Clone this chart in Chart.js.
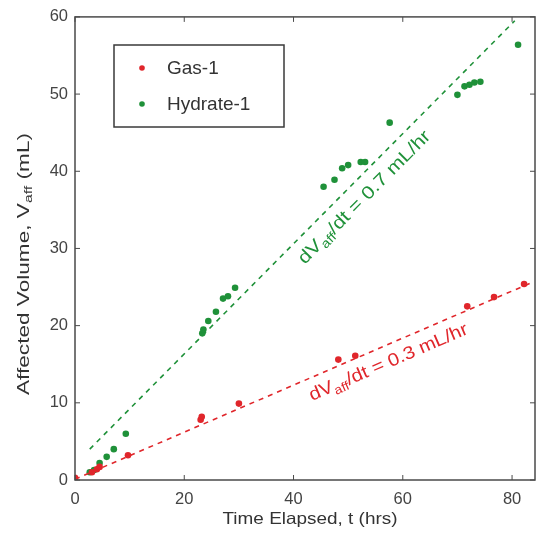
<!DOCTYPE html>
<html><head><meta charset="utf-8">
<script src="https://cdn.jsdelivr.net/npm/chart.js@4"></script>
<style>html,body{margin:0;padding:0;background:#fff}#wrap{width:539px;height:535px}</style>
</head><body><div id="wrap"><canvas id="c" width="539" height="535"></canvas></div>
<script>
const gasX = [0, 3.1, 4.0, 4.5, 9.7, 23, 23.2, 30, 48.2, 51.3, 71.8, 76.7, 82.2];
const gasY = [0.3, 1.0, 1.4, 1.7, 3.2, 7.8, 8.2, 9.9, 15.6, 16.1, 22.5, 23.7, 25.4];
const hydX = [2.7, 3.5, 4.5, 5.8, 7.1, 9.3, 23.3, 23.5, 24.4, 25.8, 27.1, 28, 29.3, 45.5, 47.5, 48.9, 50, 52.3, 53.1, 57.6, 70, 71.3, 72.2, 73.1, 74.2, 81.1];
const hydY = [1.0, 1.3, 2.2, 3.0, 4.0, 6.0, 19.0, 19.5, 20.6, 21.8, 23.5, 23.8, 24.9, 38.0, 38.9, 40.4, 40.8, 41.2, 41.2, 46.3, 49.9, 51.0, 51.2, 51.5, 51.6, 56.4];
const gasFitX = [0, 84];
const gasFitY = [0.1, 25.7];
const hydFitX = [2.7, 80.5];
const hydFitY = [4.0, 59.5];
const xTicks = [0, 20, 40, 60, 80];
const yTicks = [0, 10, 20, 30, 40, 50, 60];
const seriesNames = ["Gas-1", "Hydrate-1"];
const xTitle = "Time Elapsed, t (hrs)";
const yTitleParts = ["Affected Volume, V", "aff", " (mL)"];
const RED = "#e0262b", GREEN = "#1f9139", AX = "#4a4a4a";
const FONT = "'Liberation Sans', Arial, sans-serif";

const pts = (xs, ys) => xs.map((x, i) => ({x, y: ys[i]}));

// draws [text, subscript, text] centred at origin, stretched to target length
function drawFitted(ctx, parts, size, target) {
  const f = s => s + "px " + FONT;
  ctx.font = f(size); const w0 = ctx.measureText(parts[0]).width;
  ctx.font = f(size * 0.7); const w1 = ctx.measureText(parts[1]).width;
  ctx.font = f(size); const w2 = ctx.measureText(parts[2]).width;
  const tw = w0 + w1 + w2;
  ctx.save();
  ctx.scale(target ? target / tw : 1, 1);
  const sx = -tw / 2;
  ctx.textAlign = "left"; ctx.textBaseline = "middle";
  ctx.font = f(size); ctx.fillText(parts[0], sx, 0);
  ctx.font = f(size * 0.7); ctx.fillText(parts[1], sx + w0, size * 0.3);
  ctx.font = f(size); ctx.fillText(parts[2], sx + w0 + w1, 0);
  ctx.restore();
}

const deco = {
  id: "deco",
  afterDraw(chart) {
    const {ctx, chartArea: a, scales: {x, y}} = chart;
    ctx.save();
    ctx.strokeStyle = AX; ctx.lineWidth = 1.5;
    ctx.strokeRect(a.left, a.top, a.right - a.left, a.bottom - a.top);
    ctx.lineWidth = 1;
    xTicks.forEach(v => {
      const px = x.getPixelForValue(v);
      ctx.beginPath(); ctx.moveTo(px, a.bottom); ctx.lineTo(px, a.bottom - 5);
      ctx.moveTo(px, a.top); ctx.lineTo(px, a.top + 5); ctx.stroke();
    });
    yTicks.forEach(v => {
      const py = y.getPixelForValue(v);
      ctx.beginPath(); ctx.moveTo(a.left, py); ctx.lineTo(a.left + 5, py);
      ctx.moveTo(a.right, py); ctx.lineTo(a.right - 5, py); ctx.stroke();
    });
    // axis titles
    ctx.fillStyle = "#333";
    ctx.save(); ctx.translate(24, 264); ctx.rotate(-Math.PI / 2);
    drawFitted(ctx, yTitleParts, 16.5, 262);
    ctx.restore();
    ctx.save(); ctx.translate(310, 519);
    drawFitted(ctx, [xTitle, "", ""], 16.5, 175);
    ctx.restore();
    // legend
    ctx.fillStyle = "#fff";
    ctx.fillRect(114, 45, 170, 82);
    ctx.strokeStyle = "#3a3a3a"; ctx.lineWidth = 1.5;
    ctx.strokeRect(114, 45, 170, 82);
    const cols = [RED, GREEN];
    seriesNames.forEach((n, i) => {
      const yy = 68 + i * 36;
      ctx.fillStyle = cols[i];
      ctx.beginPath(); ctx.arc(142, yy, 2.8, 0, Math.PI * 2); ctx.fill();
      ctx.fillStyle = "#333";
      ctx.font = "19px " + FONT;
      ctx.textAlign = "left"; ctx.textBaseline = "middle";
      ctx.fillText(n, 167, yy + 1);
    });
    // slope labels
    function slopeLabel(fx, fy, cx, cy, txt, col, len) {
      const ang = Math.atan2(y.getPixelForValue(fy[1]) - y.getPixelForValue(fy[0]),
                             x.getPixelForValue(fx[1]) - x.getPixelForValue(fx[0]));
      ctx.save();
      ctx.translate(x.getPixelForValue(cx), y.getPixelForValue(cy));
      ctx.rotate(ang);
      ctx.fillStyle = col;
      drawFitted(ctx, ["dV", "aff", txt], 18, len);
      ctx.restore();
    }
    slopeLabel(hydFitX, hydFitY, 53.0, 36.6, "/dt = 0.7 mL/hr", GREEN, 180);
    slopeLabel(gasFitX, gasFitY, 57.4, 15.2, "/dt = 0.3 mL/hr", RED, 171);
    ctx.restore();
  }
};

new Chart(document.getElementById("c"), {
  type: "scatter",
  data: {
    datasets: [
      {label: "gasFit", data: pts(gasFitX, gasFitY), showLine: true, borderColor: RED, borderWidth: 1.6, borderDash: [5, 5], pointRadius: 0, fill: false},
      {label: "hydFit", data: pts(hydFitX, hydFitY), showLine: true, borderColor: GREEN, borderWidth: 1.6, borderDash: [5, 5], pointRadius: 0, fill: false},
      {label: seriesNames[0], data: pts(gasX, gasY), backgroundColor: RED, borderColor: RED, pointRadius: 3.3, borderWidth: 0},
      {label: seriesNames[1], data: pts(hydX, hydY), backgroundColor: GREEN, borderColor: GREEN, pointRadius: 3.3, borderWidth: 0}
    ]
  },
  options: {
    responsive: false, animation: false, devicePixelRatio: 1,
    layout: {padding: {top: 14, right: 1, left: 0, bottom: 0}},
    plugins: {legend: {display: false}, tooltip: {enabled: false}},
    scales: {
      x: {
        type: "linear", min: 0, max: 84.2,
        afterBuildTicks: s => { s.ticks = xTicks.map(v => ({value: v})); },
        afterFit: s => { s.height = 55; },
        grid: {display: false, drawTicks: false},
        border: {display: false},
        ticks: {padding: 10, color: "#444", font: {family: FONT, size: 16.5}}
      },
      y: {
        type: "linear", min: 0, max: 60,
        afterBuildTicks: s => { s.ticks = yTicks.map(v => ({value: v})); },
        afterFit: s => { s.width = 75; },
        grid: {display: false, drawTicks: false},
        border: {display: false},
        ticks: {padding: 7, color: "#444", font: {family: FONT, size: 16.5}}
      }
    }
  },
  plugins: [deco]
});
</script></body></html>
